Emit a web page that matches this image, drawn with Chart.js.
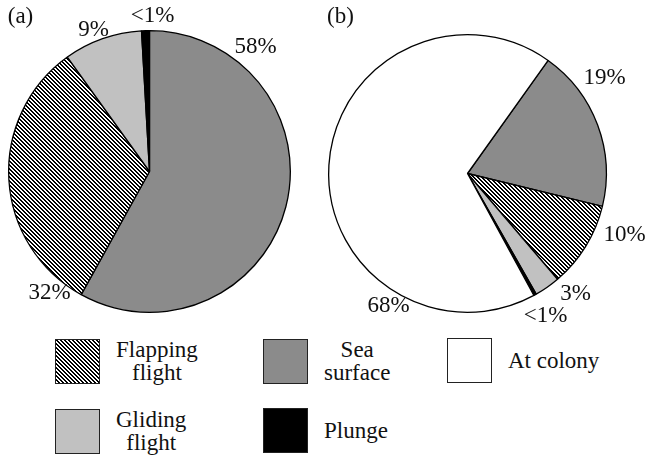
<!DOCTYPE html>
<html>
<head>
<meta charset="utf-8">
<script src="https://cdn.jsdelivr.net/npm/chart.js@4/dist/chart.umd.min.js"></script>
<style>
  html, body { margin: 0; padding: 0; background: #fff; }
  #wrap { position: relative; width: 645px; height: 455px; overflow: hidden; background: #fff;
          font-family: "Liberation Serif", "DejaVu Serif", serif; color: #111; }
  #pieA { position: absolute; left: 0; top: 0; }
  #pieB { position: absolute; left: 320px; top: 0; }
  .item { position: absolute; display: flex; align-items: center; }
  .swatch { width: 43px; height: 43px; border: 1.5px solid #222; box-sizing: content-box; }
  .txt { margin-left: 16px; font-size: 23px; line-height: 23px; text-align: center; }
</style>
</head>
<body>
<div id="wrap">
  <canvas id="pieA" width="320" height="330"></canvas>
  <canvas id="pieB" width="325" height="330"></canvas>
  <div id="legend"></div>
</div>
<script>
// Behaviour categories and their fills
const categories = ['Flapping flight', 'Sea surface', 'At colony', 'Gliding flight', 'Plunge'];
const legendLines = [['Flapping', 'flight'], ['Sea', 'surface'], ['At colony'], ['Gliding', 'flight'], ['Plunge']];

// Panel (a): time budget while at sea (%)
const panelACats = ['Sea surface', 'Flapping flight', 'Gliding flight', 'Plunge'];
const panelAValues = [58, 32, 9, 0.9];
const panelATexts = ['58%', '32%', '9%', '<1%'];

// Panel (b): overall time budget (%)
const panelBCats = ['Sea surface', 'Flapping flight', 'Gliding flight', 'Plunge', 'At colony'];
const panelBValues = [19, 10, 3, 0.3, 68];
const panelBTexts = ['19%', '10%', '3%', '<1%', '68%'];

// Percentage label placement, offsets from the pie centre (px)
const labelOffsetsA = [[106, -125], [-100, 121], [-56, -142], [3, -156]];
const labelOffsetsB = [[137, -96], [157, 61], [108, 120], [78, 142], [-79, 132]];

// Diagonal hatch tile used for flapping flight
function hatchTile() {
  const c = document.createElement('canvas');
  c.width = 4; c.height = 4;
  const g = c.getContext('2d');
  g.fillStyle = '#fff';
  g.fillRect(0, 0, 4, 4);
  g.fillStyle = '#000';
  for (let y = 0; y < 4; y++) {
    for (let x = 0; x < 4; x++) {
      if ((((x - y) % 4) + 4) % 4 < 2) g.fillRect(x, y, 1, 1);
    }
  }
  return c;
}
const tile = hatchTile();

function fillFor(cat, ctx) {
  switch (cat) {
    case 'Flapping flight': return ctx.createPattern(tile, 'repeat');
    case 'Sea surface': return '#8b8b8b';
    case 'At colony': return '#ffffff';
    case 'Gliding flight': return '#c1c1c1';
    case 'Plunge': return '#000000';
  }
}

const pctLabels = {
  id: 'pctLabels',
  afterDatasetsDraw(chart, args, opts) {
    const arc = chart.getDatasetMeta(0).data[0];
    const cx = arc.x, cy = arc.y;
    const ctx = chart.ctx;
    ctx.save();
    ctx.font = '23px "Liberation Serif"';
    ctx.fillStyle = '#111';
    ctx.textAlign = 'center';
    ctx.textBaseline = 'middle';
    opts.texts.forEach((t, i) => {
      const [dx, dy] = opts.offsets[i];
      ctx.fillText(t, cx + dx, cy + dy);
    });
    ctx.fillText(opts.panel, cx + opts.panelOffset[0], cy + opts.panelOffset[1]);
    ctx.restore();
  }
};

function makePie(id, cats, values, texts, offsets, panel, panelOffset, rotation, padding) {
  const canvas = document.getElementById(id);
  const ctx = canvas.getContext('2d');
  return new Chart(canvas, {
    type: 'pie',
    data: {
      labels: cats,
      datasets: [{
        data: values,
        backgroundColor: cats.map(c => fillFor(c, ctx)),
        borderColor: '#000',
        borderWidth: 1.3
      }]
    },
    options: {
      responsive: false,
      animation: false,
      rotation: rotation,
      layout: { padding: padding },
      plugins: {
        legend: { display: false },
        tooltip: { enabled: false },
        pctLabels: { texts: texts, offsets: offsets, panel: panel, panelOffset: panelOffset }
      }
    },
    plugins: [pctLabels]
  });
}

makePie('pieA', panelACats, panelAValues, panelATexts, labelOffsetsA, '(a)', [-129, -155], 0,
        { left: 8, top: 30, right: 29, bottom: 17 });
makePie('pieB', panelBCats, panelBValues, panelBTexts, labelOffsetsB, '(b)', [-127, -157], 35.5,
        { left: 8, top: 34, right: 38, bottom: 17 });

// Legend: swatches with centred multi-line captions
const legendPos = [[55, 338], [263, 338], [447, 338], [55, 408], [263, 408]];
const legend = document.getElementById('legend');
const tileUrl = tile.toDataURL();
categories.forEach((cat, i) => {
  const item = document.createElement('div');
  item.className = 'item';
  item.style.left = legendPos[i][0] + 'px';
  item.style.top = legendPos[i][1] + 'px';
  const sw = document.createElement('div');
  sw.className = 'swatch';
  if (cat === 'Flapping flight') {
    sw.style.backgroundImage = 'url(' + tileUrl + ')';
    sw.style.imageRendering = 'pixelated';
  } else {
    sw.style.background = fillFor(cat, null);
  }
  const tx = document.createElement('div');
  tx.className = 'txt';
  tx.innerHTML = legendLines[i].join('<br>');
  item.appendChild(sw);
  item.appendChild(tx);
  legend.appendChild(item);
});
</script>
</body>
</html>
